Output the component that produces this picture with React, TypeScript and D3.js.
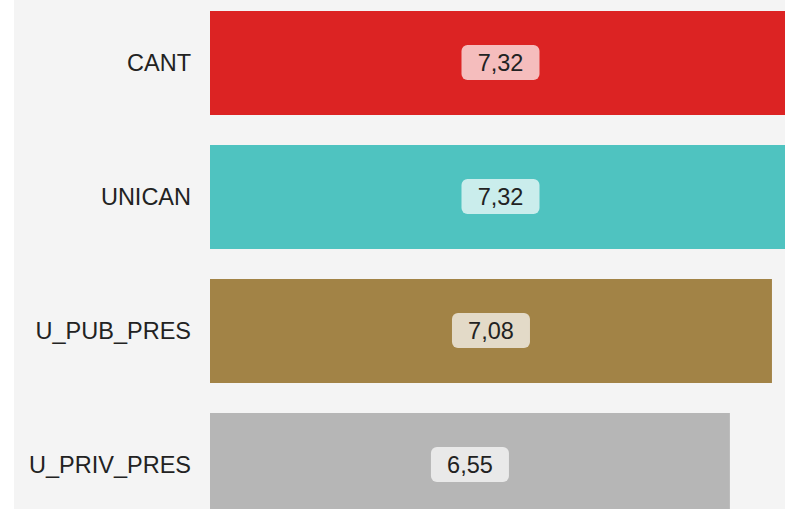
import { useRef, useEffect } from "react";
import * as d3 from "d3";

const categories = ["CANT", "UNICAN", "U_PUB_PRES", "U_PRIV_PRES"];
const values = [7.32, 7.32, 7.08, 6.55];
const colors = ["#dc2323", "#4fc3c0", "#a28346", "#b6b6b6"];

const App = () => {
  const chartRef = useRef<HTMLDivElement | null>(null);

  useEffect(() => {
    if (chartRef.current === null) {
      return;
    }
    const width = 785;
    const height = 509;

    d3.select(chartRef.current).select("svg").remove();

    const svg = d3
      .select(chartRef.current)
      .append("svg")
      .attr("width", width)
      .attr("height", height)
      .style("display", "block");

    // light panel behind the chart
    svg
      .append("rect")
      .attr("x", 14)
      .attr("y", 0)
      .attr("width", width - 14)
      .attr("height", height)
      .attr("fill", "#f4f4f4");

    const xScale = d3.scaleLinear().domain([0, d3.max(values) ?? 1]).range([210, 791]);

    const yScale = d3
      .scaleBand()
      .domain(categories)
      .range([-4, 532])
      .paddingInner(0.224)
      .paddingOuter(0.112);

    const fmt = d3.formatLocale({
      decimal: ",",
      thousands: ".",
      grouping: [3],
      currency: ["", "€"],
    }).format(".2f");

    const rows = categories.map((c, i) => ({ c, v: values[i], color: colors[i] }));

    const g = svg.selectAll("g.row").data(rows).enter().append("g").attr("class", "row");

    g.append("rect")
      .attr("x", xScale(0))
      .attr("y", (d) => yScale(d.c) ?? 0)
      .attr("width", (d) => xScale(d.v) - xScale(0))
      .attr("height", yScale.bandwidth())
      .attr("fill", (d) => d.color);

    // category labels
    g.append("text")
      .attr("x", xScale(0) - 19)
      .attr("y", (d) => (yScale(d.c) ?? 0) + yScale.bandwidth() / 2)
      .attr("dy", "0.35em")
      .attr("text-anchor", "end")
      .attr("font-family", "Liberation Sans, Arial, sans-serif")
      .attr("font-size", 23.5)
      .attr("fill", "#222")
      .text((d) => d.c);

    // value badges
    const badgeW = 78;
    const badgeH = 35;
    g.append("rect")
      .attr("x", (d) => (xScale(0) + xScale(d.v)) / 2 - badgeW / 2)
      .attr("y", (d) => (yScale(d.c) ?? 0) + yScale.bandwidth() / 2 - badgeH / 2 - 0.5)
      .attr("width", badgeW)
      .attr("height", badgeH)
      .attr("rx", 6)
      .attr("fill", "#fff")
      .attr("fill-opacity", 0.7);

    g.append("text")
      .attr("x", (d) => (xScale(0) + xScale(d.v)) / 2)
      .attr("y", (d) => (yScale(d.c) ?? 0) + yScale.bandwidth() / 2)
      .attr("dy", "0.35em")
      .attr("text-anchor", "middle")
      .attr("font-family", "Liberation Sans, Arial, sans-serif")
      .attr("font-size", 23.5)
      .attr("fill", "#222")
      .text((d) => fmt(d.v));
  }, []);

  return (
    <div
      ref={chartRef}
      style={{ position: "fixed", left: 0, top: 0, width: 785, height: 509, overflow: "hidden", background: "#fff" }}
    />
  );
};

export default App;
